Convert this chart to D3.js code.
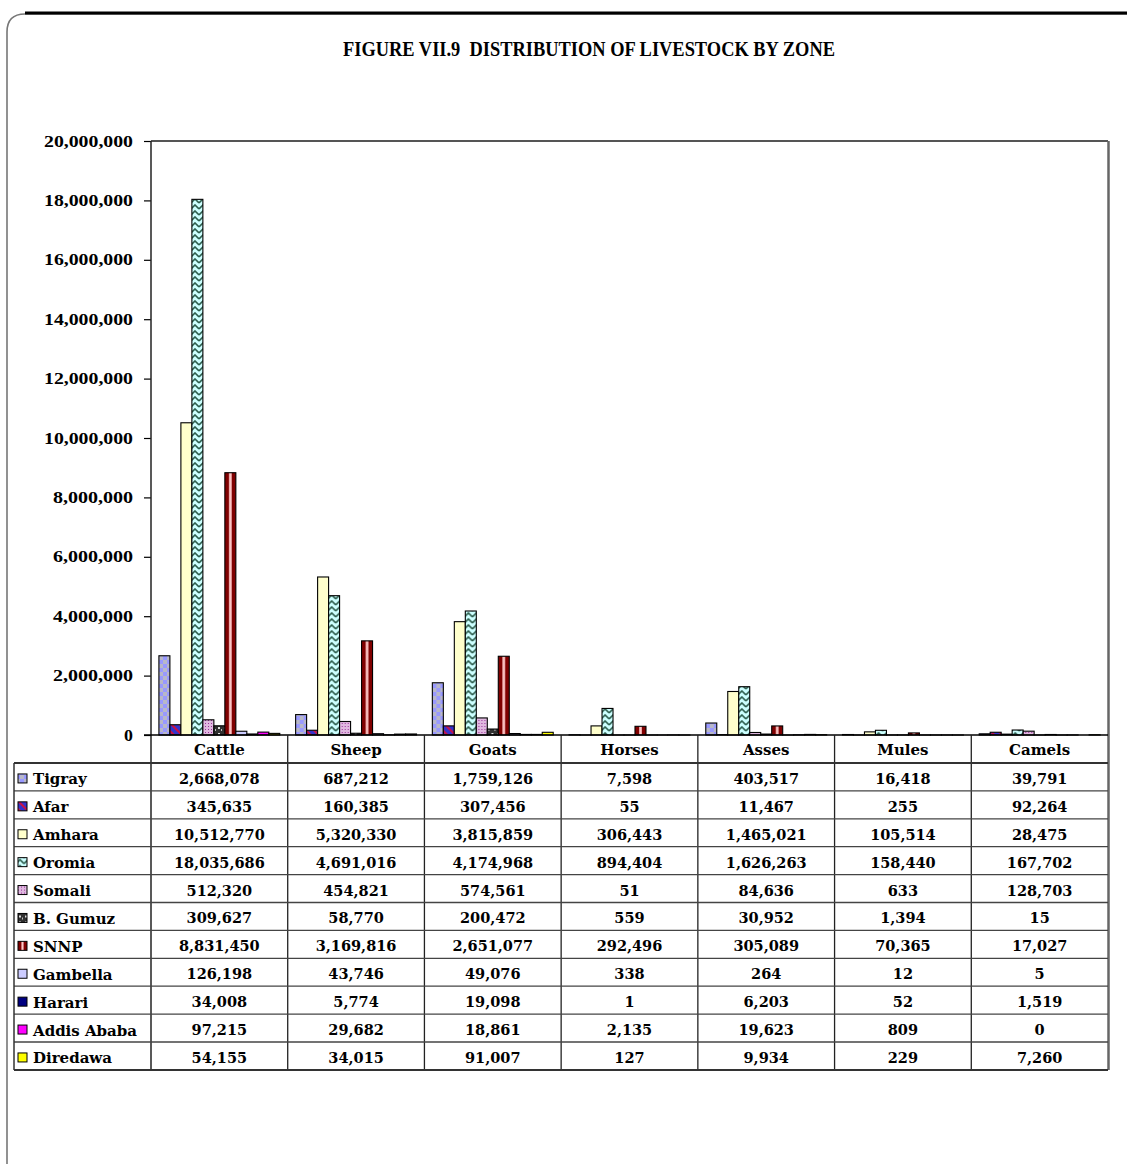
<!DOCTYPE html>
<html>
<head>
<meta charset="utf-8">
<script src="https://cdn.jsdelivr.net/npm/d3@7/dist/d3.min.js"></script>
<style>
  body { margin: 0; background: #fff; }
  text { font-family: "DejaVu Serif", serif; font-weight: bold; fill: #000; }
</style>
</head>
<body>
<div id="chart"></div>
<script>
// data
const categories = ["Cattle", "Sheep", "Goats", "Horses", "Asses", "Mules", "Camels"];
const zones = ["Tigray", "Afar", "Amhara", "Oromia", "Somali", "B. Gumuz", "SNNP",
               "Gambella", "Harari", "Addis Ababa", "Diredawa"];

const tigray     = [2668078, 687212, 1759126, 7598, 403517, 16418, 39791];
const afar       = [345635, 160385, 307456, 55, 11467, 255, 92264];
const amhara     = [10512770, 5320330, 3815859, 306443, 1465021, 105514, 28475];
const oromia     = [18035686, 4691016, 4174968, 894404, 1626263, 158440, 167702];
const somali     = [512320, 454821, 574561, 51, 84636, 633, 128703];
const bGumuz     = [309627, 58770, 200472, 559, 30952, 1394, 15];
const snnp       = [8831450, 3169816, 2651077, 292496, 305089, 70365, 17027];
const gambella   = [126198, 43746, 49076, 338, 264, 12, 5];
const harari     = [34008, 5774, 19098, 1, 6203, 52, 1519];
const addisAbaba = [97215, 29682, 18861, 2135, 19623, 809, 0];
const diredawa   = [54155, 34015, 91007, 127, 9934, 229, 7260];

const yTicks = [0, 2000000, 4000000, 6000000, 8000000, 10000000,
                12000000, 14000000, 16000000, 18000000, 20000000];

const values = [tigray, afar, amhara, oromia, somali, bGumuz, snnp,
                gambella, harari, addisAbaba, diredawa];
const fills = ["url(#pTigray)", "url(#pAfar)", "#FFFFCC", "url(#pOromia)",
               "url(#pSomali)", "url(#pGumuz)", "url(#pSnnp)",
               "#CCCCFF", "#000080", "#FF00FF", "#FFFF00"];

const width = 1127, height = 1168;
const plot = {left: 151, right: 1108, top: 141, bottom: 735};
const rowH = 27.9, tableTop = 763;

const svg = d3.select("#chart").append("svg")
  .attr("width", width)
  .attr("height", height);

// patterns
const defs = svg.append("defs");

let p = defs.append("pattern").attr("id", "pTigray")
  .attr("patternUnits", "userSpaceOnUse").attr("width", 8).attr("height", 8);
p.append("rect").attr("width", 8).attr("height", 8).attr("fill", "#9999FF");
p.append("rect").attr("width", 4).attr("height", 4).attr("fill", "#B8B8C8");
p.append("rect").attr("x", 4).attr("y", 4).attr("width", 4).attr("height", 4).attr("fill", "#B8B8C8");

p = defs.append("pattern").attr("id", "pAfar")
  .attr("patternUnits", "userSpaceOnUse").attr("width", 8).attr("height", 8);
p.append("rect").attr("width", 8).attr("height", 8).attr("fill", "#3333CC");
p.append("path").attr("d", "M0,0 L8,8 M-4,4 L4,12 M4,-4 L12,4")
  .attr("stroke", "#CC1144").attr("stroke-width", 2);

p = defs.append("pattern").attr("id", "pOromia")
  .attr("patternUnits", "userSpaceOnUse").attr("width", 8).attr("height", 6);
p.append("rect").attr("width", 8).attr("height", 6).attr("fill", "#CCFFFF");
p.append("path").attr("d", "M0,5 L4,1 L8,5")
  .attr("stroke", "#2F5F4F").attr("stroke-width", 1.6).attr("fill", "none");

p = defs.append("pattern").attr("id", "pSomali")
  .attr("patternUnits", "userSpaceOnUse").attr("width", 3).attr("height", 3);
p.append("rect").attr("width", 3).attr("height", 3).attr("fill", "#E0B8E0");
p.append("rect").attr("width", 1).attr("height", 1).attr("fill", "#993399");

p = defs.append("pattern").attr("id", "pGumuz")
  .attr("patternUnits", "userSpaceOnUse").attr("width", 6).attr("height", 6);
p.append("rect").attr("width", 6).attr("height", 6).attr("fill", "#303030");
p.append("rect").attr("x", 1).attr("y", 1).attr("width", 2).attr("height", 2).attr("fill", "#E0E0E0");
p.append("rect").attr("x", 4).attr("y", 3).attr("width", 1).attr("height", 2).attr("fill", "#C0C0C0");

p = defs.append("pattern").attr("id", "pSnnp")
  .attr("patternContentUnits", "objectBoundingBox")
  .attr("width", 1).attr("height", 1);
p.append("rect").attr("width", 1).attr("height", 1).attr("fill", "#800000");
p.append("rect").attr("x", 0.38).attr("width", 0.24).attr("height", 1).attr("fill", "#FFC8C8");

// frame
svg.append("path")
  .attr("d", "M1127,14 H25 Q7,14 7,32 V1164")
  .attr("fill", "none").attr("stroke", "#777").attr("stroke-width", 1.6);
svg.append("line").attr("x1", 25).attr("x2", 1127).attr("y1", 13).attr("y2", 13)
  .attr("stroke", "#000").attr("stroke-width", 3);

// title
svg.append("text")
  .attr("x", 589).attr("y", 56)
  .attr("text-anchor", "middle")
  .style("font-family", "'Liberation Serif', serif")
  .style("font-size", "20px")
  .style("white-space", "pre")
  .attr("textLength", 492).attr("lengthAdjust", "spacingAndGlyphs")
  .text("FIGURE VII.9  DISTRIBUTION OF LIVESTOCK BY ZONE");

// scales
const x0 = d3.scaleBand().domain(categories).range([plot.left, plot.right]);
const x1 = d3.scaleBand().domain(zones).range([0, x0.bandwidth()])
  .paddingInner(0).paddingOuter(0.72);
const y = d3.scaleLinear().domain([0, 20000000]).range([plot.bottom, plot.top]);

// plot frame
svg.append("line").attr("x1", plot.left).attr("x2", plot.right)
  .attr("y1", plot.top).attr("y2", plot.top)
  .attr("stroke", "#555").attr("stroke-width", 2);
svg.append("line").attr("x1", plot.right + 0.5).attr("x2", plot.right + 0.5)
  .attr("y1", plot.top).attr("y2", tableTop + rowH * zones.length)
  .attr("stroke", "#666").attr("stroke-width", 2.5);

// y axis
const yAxis = d3.axisLeft(y).tickValues(yTicks)
  .tickFormat(d3.format(",")).tickSize(7).tickPadding(11);
const gy = svg.append("g").attr("transform", `translate(${plot.left},0)`).call(yAxis);
gy.select(".domain").remove();
gy.selectAll(".tick line").attr("stroke", "#000").attr("stroke-width", 1.2);
gy.selectAll(".tick text")
  .style("font-family", "'Liberation Serif', serif")
  .style("font-size", "16px")
  .attr("textLength", d => d3.format(",")(d).length * 8.9)
  .attr("lengthAdjust", "spacingAndGlyphs");
svg.append("line").attr("x1", plot.left).attr("x2", plot.left)
  .attr("y1", plot.top).attr("y2", tableTop + rowH * zones.length)
  .attr("stroke", "#222").attr("stroke-width", 1.5);

// bars
const groups = svg.append("g").selectAll("g")
  .data(categories)
  .join("g")
  .attr("transform", d => `translate(${x0(d)},0)`);

groups.selectAll("rect")
  .data((c, ci) => zones.map((z, zi) => ({zone: z, zi: zi, value: values[zi][ci]})))
  .join("rect")
  .attr("x", d => x1(d.zone))
  .attr("y", d => y(d.value))
  .attr("width", x1.bandwidth())
  .attr("height", d => y(0) - y(d.value))
  .attr("fill", d => fills[d.zi])
  .attr("stroke", "#000")
  .attr("stroke-width", 1.1);

// zero line
svg.append("line").attr("x1", plot.left - 7).attr("x2", plot.right)
  .attr("y1", plot.bottom).attr("y2", plot.bottom)
  .attr("stroke", "#000").attr("stroke-width", 1.5);

// data table
const table = svg.append("g");

// category header row
table.selectAll(".hdr")
  .data(categories)
  .join("text")
  .attr("class", "hdr")
  .attr("x", d => x0(d) + x0.bandwidth() / 2)
  .attr("y", plot.bottom + 20)
  .attr("text-anchor", "middle")
  .style("font-size", "15px")
  .text(d => d);

table.selectAll(".vline")
  .data(categories.slice(1))
  .join("line")
  .attr("x1", d => x0(d)).attr("x2", d => x0(d))
  .attr("y1", plot.bottom).attr("y2", tableTop + rowH * zones.length)
  .attr("stroke", "#222").attr("stroke-width", 1.3);

// horizontal row lines
const rowLines = d3.range(zones.length + 1);
table.selectAll(".hline")
  .data(rowLines)
  .join("line")
  .attr("x1", 14).attr("x2", plot.right)
  .attr("y1", d => tableTop + d * rowH).attr("y2", d => tableTop + d * rowH)
  .attr("stroke", d => (d === 0 || d === zones.length) ? "#333" : "#444")
  .attr("stroke-width", d => (d === 0 || d === zones.length) ? 2 : 1.3);
table.append("line")
  .attr("x1", 14).attr("x2", 14)
  .attr("y1", tableTop).attr("y2", tableTop + rowH * zones.length)
  .attr("stroke", "#333").attr("stroke-width", 1.5);

const rows = table.selectAll(".row")
  .data(zones)
  .join("g")
  .attr("class", "row")
  .attr("transform", (d, i) => `translate(0,${tableTop + i * rowH})`);

rows.append("rect")
  .attr("x", 18).attr("y", rowH / 2 - 3)
  .attr("width", 9).attr("height", 9)
  .attr("fill", (d, i) => fills[i])
  .attr("stroke", "#000").attr("stroke-width", 1);

rows.append("text")
  .attr("x", 33).attr("y", rowH / 2 + 7.5)
  .style("font-size", "15px")
  .text(d => d);

rows.selectAll(".val")
  .data((z, zi) => values[zi].map((v, ci) => ({v: v, c: categories[ci]})))
  .join("text")
  .attr("class", "val")
  .attr("x", d => x0(d.c) + x0.bandwidth() / 2)
  .attr("y", rowH / 2 + 7)
  .attr("text-anchor", "middle")
  .style("font-size", "14.5px")
  .text(d => d3.format(",")(d.v));
</script>
</body>
</html>
